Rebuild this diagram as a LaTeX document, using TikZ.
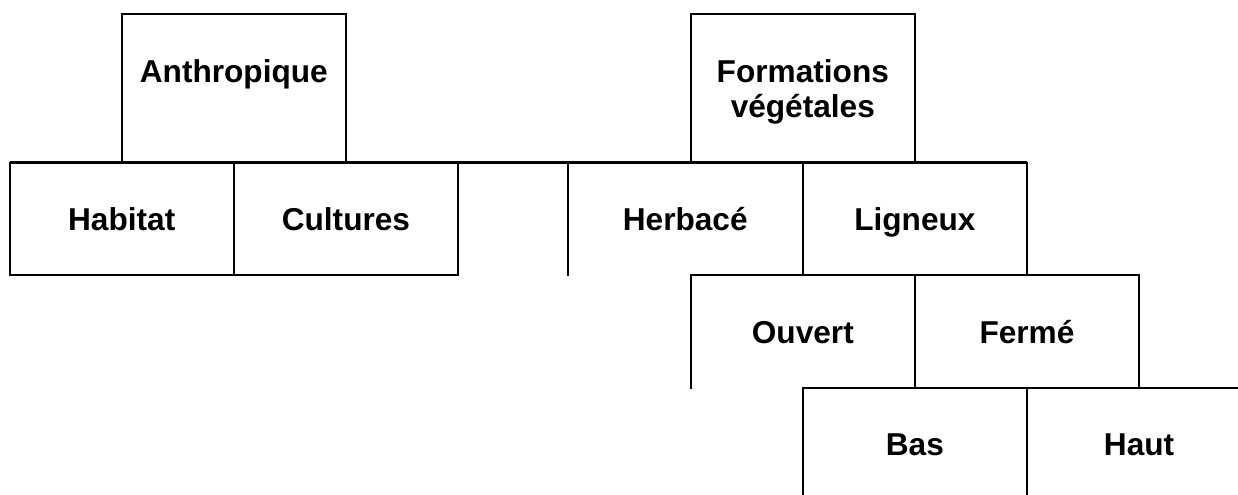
\documentclass[tikz,border=0pt]{standalone}
\usepackage{fontspec}
\setmainfont{Liberation Sans}
\usetikzlibrary{positioning}
\newcommand{\headstrut}{\rule{0pt}{17pt}}
\tikzset{
  cell/.style={inner sep=0pt,minimum width=4.47cm,minimum height=2.24cm,
    text height=12.9pt,text depth=0pt,
    align=center,font=\fontsize{18}{20.2}\selectfont\bfseries},
  headcell/.style={cell,minimum height=2.96cm,text height={},text depth={}},
  rule/.style={line width=1.1pt,line cap=rect},
  mainrule/.style={line width=1.6pt}
}
\begin{document}
\begin{tikzpicture}[x=0.02cm,y=-0.02cm,node distance=0pt]
  \useasboundingbox (0,0) rectangle (1238,494);
  % first row
  \node[cell] (habitat) at (121.75,219) {Habitat};
  \node[cell,right=0pt of habitat] (cultures) {Cultures};
  \node[cell,minimum width=4.69cm] (herbace) at (685.25,219) {Herbac\'e};
  \node[cell,right=0pt of herbace] (ligneux) {Ligneux};
  % headings
  \node[headcell,above=0pt of habitat.north east] (anthro) {\headstrut Anthropique\\\phantom{v\'eg\'etales}};
  \node[headcell,above=0pt of herbace.north east] (form) {\headstrut Formations\\v\'eg\'etales};
  % lower rows
  \node[cell,below=0pt of ligneux.south west] (ouvert) {Ouvert};
  \node[cell,right=0pt of ouvert] (ferme) {Ferm\'e};
  \node[cell,below=0pt of ouvert.south east] (bas) {Bas};
  \node[cell,right=0pt of bas] (haut) {Haut};
  % frames
  \draw[rule] (anthro.south west) -- (anthro.north west) -- (anthro.north east) -- (anthro.south east);
  \draw[rule] (form.south west) -- (form.north west) -- (form.north east) -- (form.south east);
  \draw[mainrule] (habitat.north west) -- (ligneux.north east);
  \draw[rule] (habitat.north west) |- (cultures.south east) -- (cultures.north east);
  \draw[rule] (habitat.north east) -- (habitat.south east);
  \draw[rule] (herbace.north west) -- (herbace.south west);
  \draw[rule] (ligneux.north west) -- (ligneux.south west);
  \draw[rule] (ligneux.north east) -- (ligneux.south east);
  \draw[rule] (ouvert.south west) |- (ferme.north east) -- (ferme.south east);
  \draw[rule] (ouvert.north east) -- (ouvert.south east);
  \draw[rule] (bas.south west) |- (haut.north east);
  \draw[rule] (bas.north east) -- (bas.south east);
\end{tikzpicture}
\end{document}
